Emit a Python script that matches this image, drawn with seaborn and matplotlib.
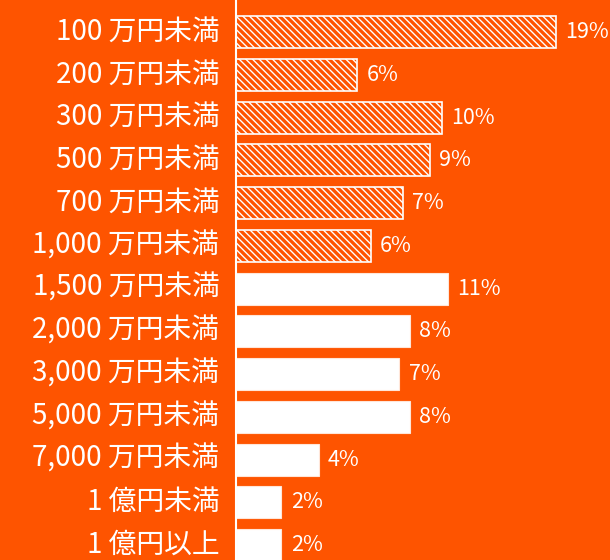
import matplotlib
matplotlib.use("Agg")
import matplotlib.pyplot as plt
import matplotlib.transforms as mtransforms
import seaborn as sns
import pandas as pd

# Data
categories = [
    "100 万円未満", "200 万円未満", "300 万円未満", "500 万円未満",
    "700 万円未満", "1,000 万円未満", "1,500 万円未満", "2,000 万円未満",
    "3,000 万円未満", "5,000 万円未満", "7,000 万円未満", "1 億円未満", "1 億円以上",
]
# bar lengths as drawn (percent)
values = [19.0, 7.2, 12.2, 11.5, 9.9, 8.0, 12.6, 10.3, 9.7, 10.3, 4.9, 2.7, 2.7]
pct_labels = ["19%", "6%", "10%", "9%", "7%", "6%", "11%", "8%", "7%", "8%", "4%", "2%", "2%"]
hatched = [True] * 6 + [False] * 7

BG = "#FE5400"

sns.set_theme(style="white")
plt.rcParams["font.family"] = ["Noto Sans CJK JP", "DejaVu Sans"]
plt.rcParams["hatch.color"] = "white"
plt.rcParams["hatch.linewidth"] = 1.0

df = pd.DataFrame({"category": categories, "value": values})

fig = plt.figure(figsize=(6.1, 5.6), dpi=100, facecolor=BG)
ax = fig.add_axes([236 / 610, 0, 1 - 236 / 610, 1])
ax.set_facecolor(BG)

sns.barplot(data=df, x="value", y="category", orient="h", color="white",
            width=0.75, saturation=1, ax=ax)

for patch, h in zip(ax.patches, hatched):
    if h:
        patch.set_facecolor(BG)
        patch.set_edgecolor("white")
        patch.set_hatch("\\\\\\\\\\")
        patch.set_linewidth(1.2)
    else:
        patch.set_edgecolor("#FFE6D9")
        patch.set_linewidth(0.8)

for i, (v, lab) in enumerate(zip(values, pct_labels)):
    ax.text(v + 0.55, i, lab, va="center", ha="left", color="white", fontsize=15.5)

ax.set_xlim(0, 22.2)
ax.set_ylim(12.35, -0.75)
ax.set_xlabel("")
ax.set_ylabel("")
ax.set_xticks([])
ax.tick_params(axis="y", length=0, pad=12, labelsize=20, labelcolor="white")

# category labels sit a few pixels above the bar centres in the reference
shift = mtransforms.ScaledTranslation(0, 4 / 100, fig.dpi_scale_trans)
for lbl in ax.get_yticklabels():
    lbl.set_transform(lbl.get_transform() + shift)

for side in ["top", "right", "bottom"]:
    ax.spines[side].set_visible(False)
ax.spines["left"].set_color("white")
ax.spines["left"].set_linewidth(1.5)

fig.savefig("out.png", dpi=100, facecolor=BG)
